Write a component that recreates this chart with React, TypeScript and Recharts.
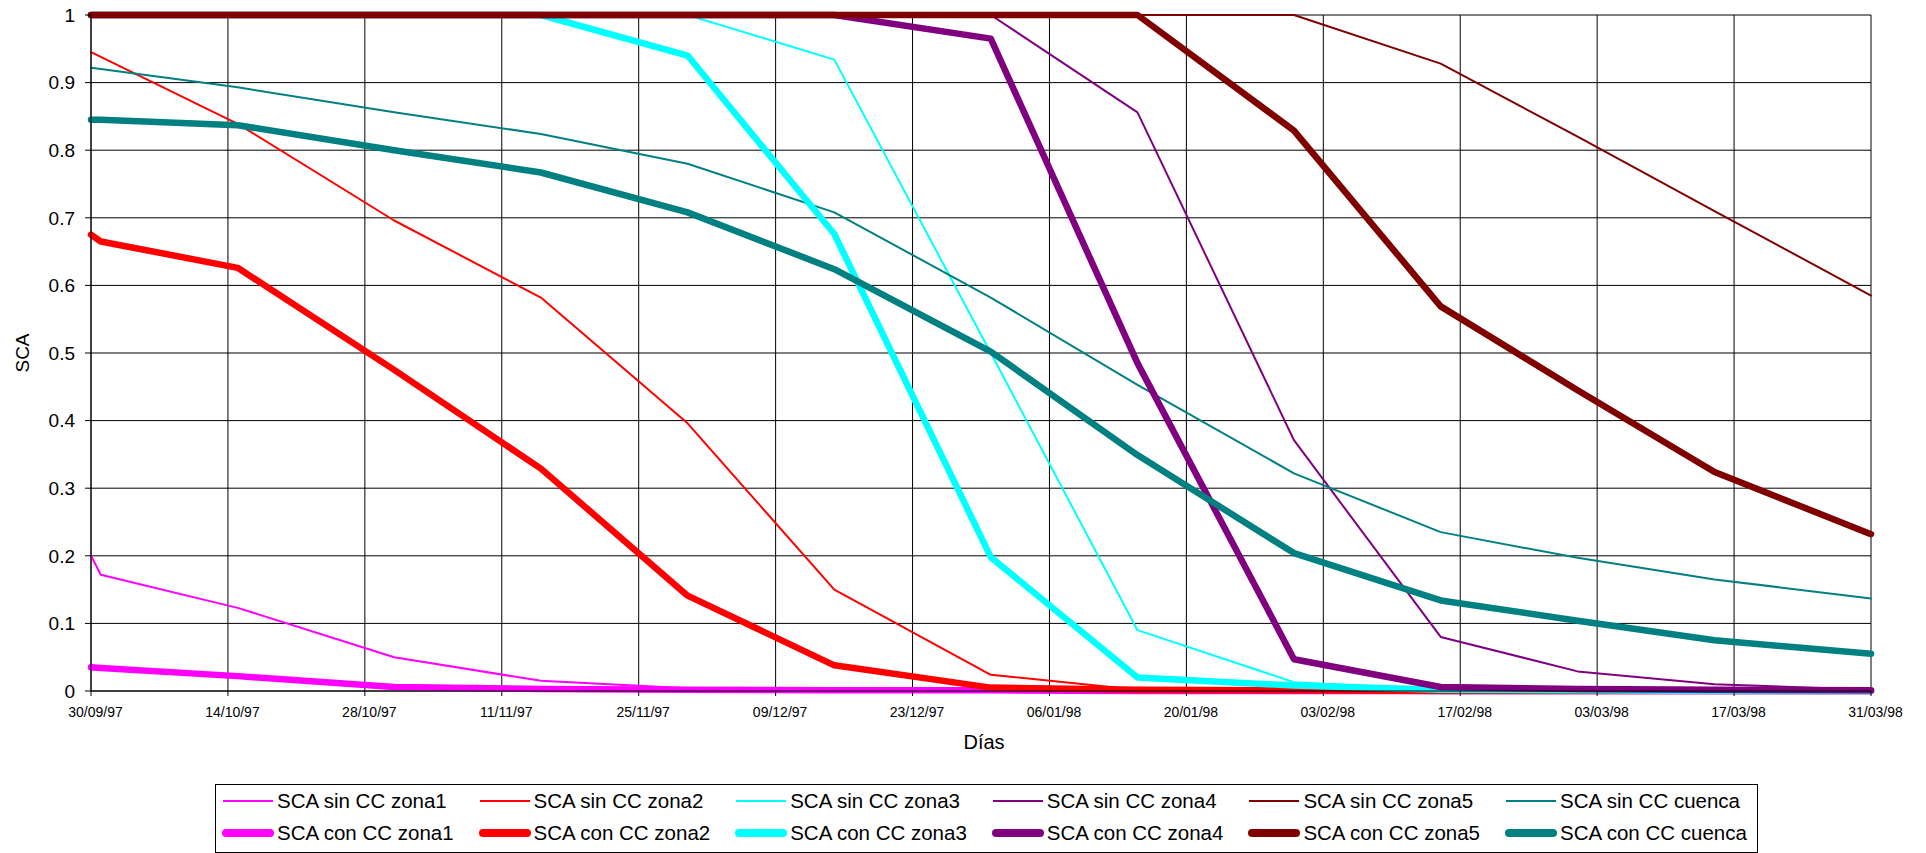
import React from 'react';
import { LineChart, Line, XAxis, YAxis, CartesianGrid } from 'recharts';

// Snow-covered area (SCA) fraction per zone, with and without cloud correction (CC)
// Days counted from 30/09/97
const days = [0, 1, 15, 31, 46, 61, 76, 92, 107, 123, 138, 152, 166, 182];

const sinZona1 = [0.2, 0.172, 0.123, 0.05, 0.015, 0.004, 0, 0, 0, 0, 0, 0, 0, 0];
const sinZona2 = [0.945, 0.938, 0.839, 0.696, 0.582, 0.396, 0.15, 0.024, 0.002, 0, 0, 0, 0, 0];
const sinZona3 = [1, 1, 1, 1, 1, 1, 0.934, 0.5, 0.09, 0.013, 0.002, 0, 0, 0];
const sinZona4 = [1, 1, 1, 1, 1, 1, 1, 1, 0.856, 0.371, 0.08, 0.029, 0.01, 0.002];
const sinZona5 = [1, 1, 1, 1, 1, 1, 1, 1, 1, 1, 0.928, 0.82, 0.71, 0.585];
const sinCuenca = [0.922, 0.92, 0.893, 0.856, 0.824, 0.78, 0.708, 0.582, 0.453, 0.322, 0.235, 0.197, 0.165, 0.137];

const conZona1 = [0.035, 0.034, 0.022, 0.006, 0.003, 0.002, 0.001, 0.001, 0, 0, 0, 0, 0, 0];
const conZona2 = [0.675, 0.665, 0.626, 0.475, 0.329, 0.141, 0.038, 0.005, 0.002, 0.001, 0, 0, 0, 0];
const conZona3 = [1, 1, 1, 1, 1, 0.94, 0.676, 0.198, 0.02, 0.008, 0.002, 0.001, 0, 0];
const conZona4 = [1, 1, 1, 1, 1, 1, 1, 0.965, 0.485, 0.047, 0.006, 0.003, 0.002, 0.001];
const conZona5 = [1, 1, 1, 1, 1, 1, 1, 1, 1, 0.829, 0.569, 0.445, 0.324, 0.232];
const conCuenca = [0.845, 0.845, 0.837, 0.8, 0.767, 0.708, 0.624, 0.502, 0.349, 0.204, 0.134, 0.104, 0.075, 0.055];

const xTickDays = [0, 14, 28, 42, 56, 70, 84, 98, 112, 126, 140, 154, 168, 182];
const xTickLabels = [
  '30/09/97', '14/10/97', '28/10/97', '11/11/97', '25/11/97', '09/12/97', '23/12/97',
  '06/01/98', '20/01/98', '03/02/98', '17/02/98', '03/03/98', '17/03/98', '31/03/98',
];
const yTicks = [0, 0.1, 0.2, 0.3, 0.4, 0.5, 0.6, 0.7, 0.8, 0.9, 1];

const THIN = 2;
const THICK = 6.5;

const series = [
  { key: 'sinZona1', name: 'SCA sin CC zona1', color: '#FF00FF', width: THIN, values: sinZona1 },
  { key: 'sinZona2', name: 'SCA sin CC zona2', color: '#FF0000', width: THIN, values: sinZona2 },
  { key: 'sinZona3', name: 'SCA sin CC zona3', color: '#00FFFF', width: THIN, values: sinZona3 },
  { key: 'sinZona4', name: 'SCA sin CC zona4', color: '#800080', width: THIN, values: sinZona4 },
  { key: 'sinZona5', name: 'SCA sin CC zona5', color: '#800000', width: THIN, values: sinZona5 },
  { key: 'sinCuenca', name: 'SCA sin CC cuenca', color: '#008080', width: THIN, values: sinCuenca },
  { key: 'conZona1', name: 'SCA con CC zona1', color: '#FF00FF', width: THICK, values: conZona1 },
  { key: 'conZona2', name: 'SCA con CC zona2', color: '#FF0000', width: THICK, values: conZona2 },
  { key: 'conZona3', name: 'SCA con CC zona3', color: '#00FFFF', width: THICK, values: conZona3 },
  { key: 'conZona4', name: 'SCA con CC zona4', color: '#800080', width: THICK, values: conZona4 },
  { key: 'conZona5', name: 'SCA con CC zona5', color: '#800000', width: THICK, values: conZona5 },
  { key: 'conCuenca', name: 'SCA con CC cuenca', color: '#008080', width: THICK, values: conCuenca },
];

const data = days.map((day, i) => {
  const row: Record<string, number> = { day };
  series.forEach((s) => {
    row[s.key] = s.values[i];
  });
  return row;
});

const FONT = '"Liberation Sans", Arial, sans-serif';

const XTick = (props: any) => {
  const { x, y, payload } = props;
  const idx = xTickDays.indexOf(payload.value);
  return (
    <text x={x + 4.5} y={y} dy="0.71em" textAnchor="middle" fontFamily={FONT} fontSize={14} fill="#000">
      {idx >= 0 ? xTickLabels[idx] : ''}
    </text>
  );
};

const YTick = (props: any) => {
  const { x, y, payload } = props;
  return (
    <text x={x} y={y} dy="0.355em" textAnchor="end" fontFamily={FONT} fontSize={19} fill="#000">
      {String(payload.value)}
    </text>
  );
};

const YTitle = (props: any) => {
  const vb = props.viewBox || { x: 0, y: 0, width: 0, height: 0 };
  const cx = 22;
  const cy = vb.y + vb.height / 2;
  return (
    <text
      x={cx}
      y={cy}
      dy="0.355em"
      textAnchor="middle"
      transform={`rotate(-90, ${cx}, ${cy})`}
      fontFamily={FONT}
      fontSize={19}
      fill="#000"
    >
      SCA
    </text>
  );
};

const XTitle = (props: any) => {
  const vb = props.viewBox || { x: 0, y: 0, width: 0, height: 0 };
  return (
    <text x={vb.x + vb.width / 2 + 3} y={749} textAnchor="middle" fontFamily={FONT} fontSize={20} fill="#000">
      Días
    </text>
  );
};

const LegendBox = () => {
  const rows = [series.slice(0, 6), series.slice(6, 12)];
  return (
    <div
      style={{
        position: 'absolute',
        left: 215,
        top: 784,
        width: 1541,
        height: 67,
        border: '1px solid #000',
        background: '#fff',
        fontFamily: FONT,
        fontSize: 20.5,
        color: '#000',
      }}
    >
      {rows.map((row, r) =>
        row.map((s, i) => (
          <div
            key={s.key}
            style={{
              position: 'absolute',
              left: 6 + i * 256.6,
              top: r === 0 ? 16 : 48,
              transform: 'translateY(-50%)',
              display: 'flex',
              alignItems: 'center',
              whiteSpace: 'nowrap',
            }}
          >
            <svg width={52} height={12} style={{ display: 'block' }}>
              <line
                x1={s.width > 3 ? 4 : 1}
                y1={6}
                x2={s.width > 3 ? 48 : 51}
                y2={6}
                stroke={s.color}
                strokeWidth={s.width > 3 ? 8 : 2}
                strokeLinecap={s.width > 3 ? 'round' : 'butt'}
              />
            </svg>
            <span style={{ marginLeft: 3, lineHeight: '24px' }}>{s.name}</span>
          </div>
        ))
      )}
    </div>
  );
};

export default function App() {
  return (
    <div style={{ position: 'fixed', left: 0, top: 0, width: 1926, height: 853, background: '#fff', overflow: 'hidden' }}>
      <LineChart width={1926} height={853} data={data} margin={{ top: 15, right: 55, left: 0, bottom: 0 }}>
        <CartesianGrid stroke="#000" strokeWidth={1} horizontal vertical />
        <XAxis
          dataKey="day"
          type="number"
          domain={[0, 182]}
          ticks={xTickDays}
          interval={0}
          height={162}
          tickSize={5}
          tickMargin={11}
          tick={<XTick />}
          axisLine={{ stroke: '#000' }}
          tickLine={{ stroke: '#000' }}
          label={<XTitle />}
        />
        <YAxis
          type="number"
          domain={[0, 1]}
          ticks={yTicks}
          interval={0}
          width={91}
          tickSize={6}
          tickMargin={10}
          tick={<YTick />}
          axisLine={{ stroke: '#000' }}
          tickLine={{ stroke: '#000' }}
          label={<YTitle />}
        />
        {series.map((s) => (
          <Line
            key={s.key}
            type="linear"
            dataKey={s.key}
            name={s.name}
            stroke={s.color}
            strokeWidth={s.width}
            strokeLinejoin="round"
            strokeLinecap="round"
            dot={false}
            activeDot={false}
            isAnimationActive={false}
          />
        ))}
      </LineChart>
      <LegendBox />
    </div>
  );
}
